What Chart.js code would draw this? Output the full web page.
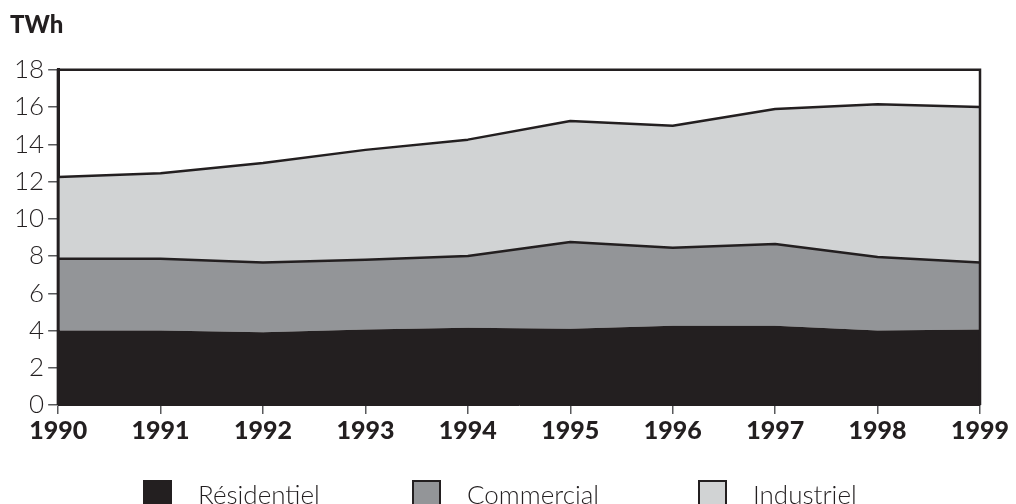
<!DOCTYPE html>
<html>
<head>
<meta charset="utf-8">
<script src="https://cdn.jsdelivr.net/npm/chart.js@4"></script>
<style>
  body { margin: 0; background: #fff; }
  #wrap { position: relative; width: 1016px; height: 504px; overflow: hidden; }
  #chart { position: absolute; left: 0; top: 0; }
  #legend { position: absolute; left: 143px; top: 478px; display: flex; font-family: Lato, sans-serif; font-weight: 300; font-size: 26px; color: #231f20; }
  .item { display: flex; align-items: center; }
  .box { width: 29px; height: 29px; box-sizing: border-box; margin-right: 26px; }
</style>
</head>
<body>
<div id="wrap">
  <canvas id="chart" width="1016" height="504"></canvas>
  <div id="legend"></div>
</div>
<script>
const years = ['1990', '1991', '1992', '1993', '1994', '1995', '1996', '1997', '1998', '1999'];
const residentiel = [4.0, 4.0, 3.9, 4.05, 4.15, 4.1, 4.25, 4.25, 4.0, 4.05];
const commercial = [3.85, 3.85, 3.75, 3.75, 3.85, 4.65, 4.2, 4.4, 3.95, 3.6];
const industriel = [4.4, 4.6, 5.35, 5.9, 6.25, 6.5, 6.55, 7.25, 8.2, 8.35];
const seriesNames = ['Résidentiel', 'Commercial', 'Industriel'];

const ink = '#231f20';
const tickGray = '#58595b';

// top, left and right edges of the plot frame
const frame = {
    id: 'frame',
    afterDatasetsDraw(chart) {
        const {ctx, chartArea: a} = chart;
        ctx.save();
        ctx.strokeStyle = ink;
        ctx.lineWidth = 2.5;
        ctx.beginPath();
        ctx.moveTo(a.left, a.top);
        ctx.lineTo(a.right, a.top);
        ctx.lineTo(a.right, a.bottom);
        ctx.stroke();
        ctx.lineWidth = 3;
        ctx.beginPath();
        ctx.moveTo(a.left, a.bottom);
        ctx.lineTo(a.left, a.top - 1);
        ctx.stroke();
        ctx.restore();
    }
};

const chart = new Chart(document.getElementById('chart'), {
    type: 'line',
    data: {
        labels: years,
        datasets: [
            {
                label: seriesNames[0],
                data: residentiel,
                backgroundColor: ink,
                borderColor: ink,
                borderWidth: 0,
                fill: 'origin'
            },
            {
                label: seriesNames[1],
                data: commercial,
                backgroundColor: '#939598',
                borderColor: ink,
                borderWidth: 2.5,
                fill: '-1'
            },
            {
                label: seriesNames[2],
                data: industriel,
                backgroundColor: '#d1d3d4',
                borderColor: ink,
                borderWidth: 2.5,
                fill: '-1'
            }
        ]
    },
    options: {
        responsive: false,
        animation: false,
        layout: { padding: { left: 10, right: 36, top: 0, bottom: 56 } },
        elements: {
            point: { radius: 0 },
            line: { tension: 0, borderJoinStyle: 'round' }
        },
        plugins: {
            legend: { display: false },
            tooltip: { enabled: false },
            title: {
                display: true,
                text: 'TWh',
                align: 'start',
                color: ink,
                font: { family: 'Lato', size: 24, weight: 900 },
                padding: { top: 11, bottom: 30 }
            }
        },
        scales: {
            x: {
                offset: false,
                grid: { drawOnChartArea: false, drawTicks: true, tickLength: 9, color: tickGray, lineWidth: 1.5 },
                border: { display: true, color: ink, width: 1 },
                ticks: { color: ink, padding: 2, maxRotation: 0, font: { family: 'Lato', size: 25, weight: 900 } }
            },
            y: {
                stacked: true,
                min: 0,
                max: 18,
                grid: { drawOnChartArea: false, drawTicks: true, tickLength: 10, color: tickGray, lineWidth: 1.5 },
                border: { display: true, color: ink, width: 3 },
                ticks: { stepSize: 2, color: ink, padding: 4, font: { family: 'Lato', size: 26, weight: 300 } }
            }
        }
    },
    plugins: [frame]
});

// legend under the axis
const itemWidths = [269, 286, null];
const legend = document.getElementById('legend');
chart.data.datasets.forEach((ds, i) => {
    const item = document.createElement('div');
    item.className = 'item';
    if (itemWidths[i]) item.style.width = itemWidths[i] + 'px';
    const box = document.createElement('span');
    box.className = 'box';
    box.style.background = ds.backgroundColor;
    if (i > 0) box.style.border = '2px solid ' + ink;
    const txt = document.createElement('span');
    txt.textContent = ds.label;
    item.appendChild(box);
    item.appendChild(txt);
    legend.appendChild(item);
});
</script>
</body>
</html>
